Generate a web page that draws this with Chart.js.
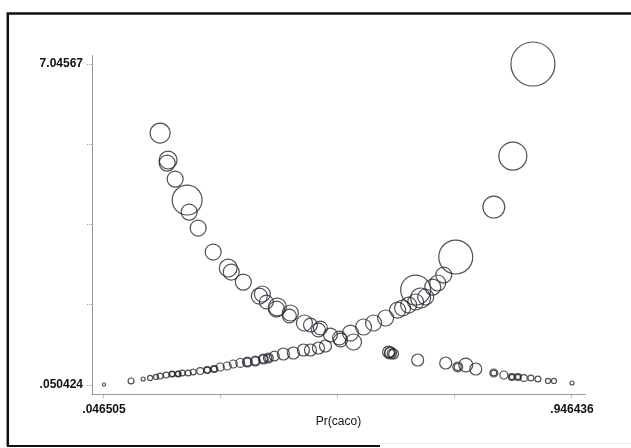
<!DOCTYPE html>
<html>
<head>
<meta charset="utf-8">
<script src="https://cdn.jsdelivr.net/npm/chart.js@4.4.1/dist/chart.umd.min.js"></script>
<style>
  html, body { margin: 0; padding: 0; background: #fff; }
  #wrap { width: 631px; height: 448px; position: relative; }
</style>
</head>
<body>
<div id="wrap"><canvas id="influenceChart"></canvas></div>
<script>
// predicted probability, influence statistic and weight of each covariate pattern
const prob = [
    // cases, falling branch
    0.1544, 0.1698, 0.1679, 0.1833, 0.2064, 0.2103, 0.2276, 0.2565, 0.2854, 0.2912,
    0.3144, 0.3452, 0.3510, 0.3587, 0.3799, 0.3780, 0.4030, 0.4049, 0.4319, 0.4435,
    0.4589, 0.4627, 0.4820, 0.4993, 0.5013, 0.5263,
    // controls, rising branch
    0.5205, 0.5456, 0.5649, 0.5880, 0.6111, 0.6207, 0.6323, 0.6458, 0.6458, 0.6554,
    0.6651, 0.6786, 0.6882, 0.6998, 0.7229, 0.7961, 0.8327, 0.8713,
    // controls, lower branch
    0.0465, 0.0985, 0.1217, 0.1351, 0.1467, 0.1544, 0.1660, 0.1775, 0.1891, 0.1968,
    0.2084, 0.2180, 0.2315, 0.2450, 0.2585, 0.2700, 0.2835, 0.2951, 0.3086, 0.3221,
    0.3375, 0.3529, 0.3625, 0.3741, 0.3914, 0.4107, 0.4300, 0.4435, 0.4589, 0.4724,
    0.1775, 0.1891, 0.2450, 0.2585, 0.3221, 0.3375, 0.3529, 0.3625,
    // cases, lower branch
    0.5938, 0.5976, 0.6034, 0.6497, 0.7036, 0.7267, 0.7422, 0.7614, 0.7961, 0.8154,
    0.8308, 0.8424, 0.8539, 0.8674, 0.8809, 0.9002, 0.9117, 0.9464,
    0.5957, 0.5990, 0.7267, 0.7961, 0.8308, 0.8424
];
const stat = [
    5.541, 4.952, 4.887, 4.538, 4.081, 3.819, 3.471, 2.948, 2.599, 2.512,
    2.294, 1.989, 2.033, 1.859, 1.750, 1.706, 1.554, 1.619, 1.401, 1.358,
    1.249, 1.292, 1.140, 1.074, 1.031, 0.987,
    1.183, 1.314, 1.401, 1.510, 1.684, 1.728, 1.793, 1.859, 2.120, 1.946,
    1.968, 2.185, 2.273, 2.447, 2.839, 3.928, 5.039, 7.0457,
    0.060, 0.138, 0.181, 0.203, 0.225, 0.246, 0.268, 0.290, 0.290, 0.312,
    0.312, 0.334, 0.355, 0.377, 0.399, 0.443, 0.464, 0.508, 0.530, 0.551,
    0.573, 0.617, 0.639, 0.682, 0.726, 0.748, 0.813, 0.813, 0.857, 0.900,
    0.290, 0.295, 0.377, 0.399, 0.551, 0.573, 0.617, 0.639,
    0.769, 0.748, 0.726, 0.595, 0.530, 0.443, 0.486, 0.399, 0.312, 0.268,
    0.225, 0.225, 0.203, 0.203, 0.181, 0.138, 0.138, 0.094,
    0.760, 0.740, 0.443, 0.312, 0.225, 0.225
];
const weight = [
    25, 20, 16, 16, 56, 16, 16, 16, 20, 16,
    16, 16, 16, 12, 20, 16, 12, 16, 16, 12,
    12, 12, 12, 12, 12, 16,
    16, 16, 16, 16, 16, 16, 16, 16, 56, 25,
    16, 16, 16, 16, 72, 30, 49, 121,
    0.6, 2.2, 1, 1.6, 1.6, 2.2, 2.2, 2.2, 2.2, 2.2,
    2.2, 2.2, 3, 3, 3, 4, 4, 4, 5, 6,
    6, 6, 6, 6, 9, 9, 9, 9, 9, 9,
    1.6, 1.6, 2.2, 2.2, 4, 4, 4, 3,
    9, 9, 6, 9, 9, 6, 12, 9, 4, 4,
    3, 3, 3, 2.2, 2.2, 1.6, 1.6, 1,
    6, 4, 3, 2.2, 1.6, 1.6
];

const xTicks = [0.046505, 0.271488, 0.496471, 0.721453, 0.946436];
const xTickLabels = ['.046505', '', '', '', '.946436'];
const yTicks = [0.050424, 1.799236, 3.548047, 5.296859, 7.04567];
const yTickLabels = ['.050424', '', '', '', '7.04567'];

const points = prob.map((p, i) => ({ x: p, y: stat[i], r: 2 * Math.sqrt(weight[i]) }));

// scanned page frame
const framePlugin = {
    id: 'frame',
    beforeDraw(chart) {
        const c = chart.ctx;
        c.save();
        c.fillStyle = '#fff';
        c.fillRect(0, 0, chart.width, chart.height);
        c.strokeStyle = '#111';
        c.lineWidth = 2.5;
        c.beginPath();
        c.moveTo(7.8, 446);
        c.lineTo(7.8, 13.5);
        c.lineTo(631, 13.5);
        c.stroke();
        c.lineWidth = 2;
        c.beginPath();
        c.moveTo(7, 446);
        c.lineTo(380, 446);
        c.stroke();
        c.strokeStyle = 'rgba(0,0,0,0.08)';
        c.lineWidth = 1;
        c.beginPath();
        c.moveTo(380, 443.5);
        c.lineTo(631, 443.5);
        c.stroke();
        c.restore();
    }
};

const axisColor = 'rgba(120, 120, 140, 0.75)';
const tickFont = { family: "'Liberation Sans', Arial, sans-serif", size: 12, weight: 'bold' };

new Chart(document.getElementById('influenceChart'), {
    type: 'bubble',
    data: {
        datasets: [{
            data: points,
            backgroundColor: 'rgba(0,0,0,0)',
            borderColor: 'rgba(40, 40, 50, 0.82)',
            borderWidth: 1.2,
            clip: false
        }]
    },
    options: {
        responsive: true,
        maintainAspectRatio: false,
        animation: false,
        layout: { padding: { left: 0, top: 55, right: 46, bottom: 0 } },
        plugins: {
            legend: { display: false },
            tooltip: { enabled: false }
        },
        elements: { point: { hoverRadius: 0 } },
        scales: {
            x: {
                type: 'linear',
                min: 0.02343,
                max: 0.97144,
                afterFit: s => { s.height = 54; },
                afterBuildTicks: s => { s.ticks = xTicks.map(v => ({ value: v })); },
                grid: {
                    drawOnChartArea: false,
                    tickLength: 5,
                    color: axisColor,
                    tickBorderDash: [1, 1]
                },
                border: { display: true, color: axisColor, dash: [1, 1] },
                ticks: {
                    color: '#111',
                    font: tickFont,
                    padding: 3,
                    maxRotation: 0,
                    autoSkip: false,
                    callback: (v, i) => xTickLabels[i]
                },
                title: {
                    display: true,
                    text: 'Pr(caco)',
                    color: '#111',
                    font: { family: "'Liberation Sans', Arial, sans-serif", size: 12 },
                    padding: { top: 0, bottom: 19 }
                }
            },
            y: {
                type: 'linear',
                min: -0.1457,
                max: 7.2418,
                afterFit: s => { s.width = 92; },
                afterBuildTicks: s => { s.ticks = yTicks.map(v => ({ value: v })); },
                grid: {
                    drawOnChartArea: false,
                    tickLength: 5,
                    color: axisColor,
                    tickBorderDash: [1, 1]
                },
                border: { display: true, color: axisColor, dash: [1, 1] },
                ticks: {
                    color: '#111',
                    font: tickFont,
                    padding: 4,
                    autoSkip: false,
                    callback: (v, i) => yTickLabels[i]
                }
            }
        }
    },
    plugins: [framePlugin]
});
</script>
</body>
</html>
